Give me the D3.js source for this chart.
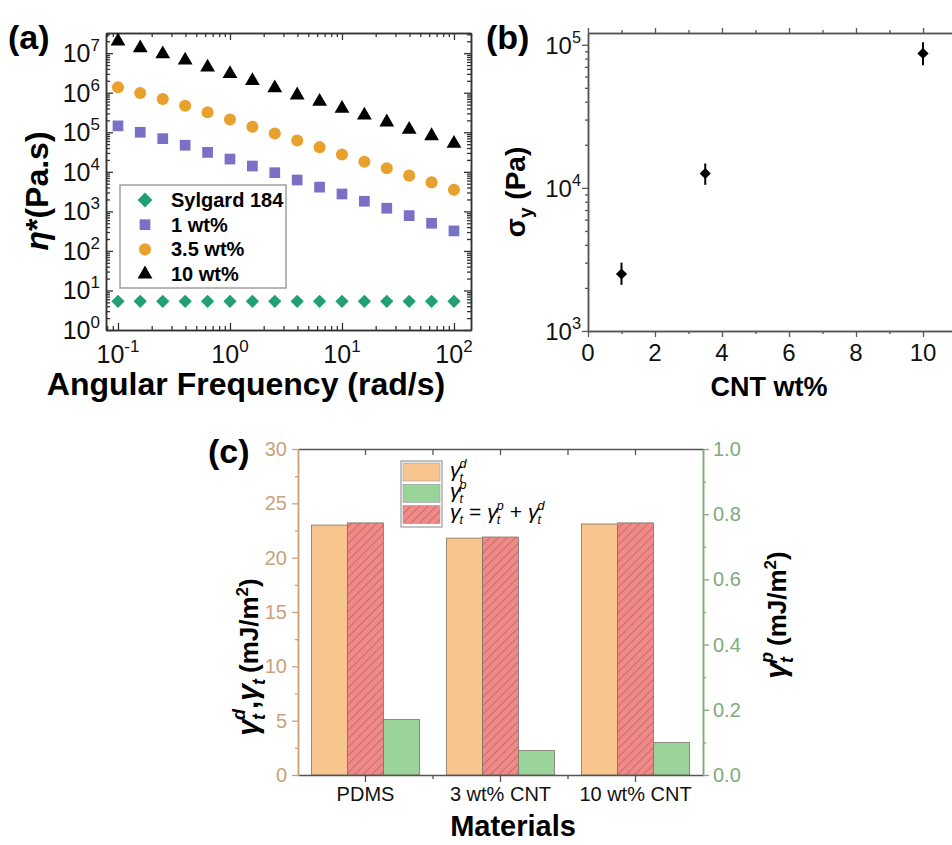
<!DOCTYPE html>
<html>
<head>
<meta charset="utf-8">
<script src="https://cdn.jsdelivr.net/npm/d3@7"></script>
<style>
  body { margin: 0; background: #fff; }
  svg { display: block; }
  text { font-family: 'Liberation Sans', Arial, sans-serif; }
</style>
</head>
<body>
<svg id="fig" width="952" height="845"></svg>
<script>
// ---- panel (a): complex viscosity vs angular frequency
const freq = [0.1, 0.158, 0.251, 0.398, 0.631, 1, 1.585, 2.512, 3.981, 6.31, 10, 15.85, 25.12, 39.81, 63.1, 100];
const sylgardFreq = [0.1, 0.158, 0.251, 0.398, 0.631, 1, 1.585, 2.512, 3.981, 6.31, 10, 15.85, 25.12, 39.81, 63.1, 100, 158.5];
const sylgard = [5.3, 5.3, 5.3, 5.3, 5.3, 5.3, 5.3, 5.3, 5.3, 5.3, 5.3, 5.3, 5.3, 5.3, 5.3, 5.3, 5.3];
const wt1 = [1.45e5, 1.0e5, 6.9e4, 4.7e4, 3.1e4, 2.1e4, 1.4e4, 9.5e3, 6.2e3, 4.1e3, 2.75e3, 1.8e3, 1.2e3, 7.8e2, 5.0e2, 3.2e2];
const wt35 = [1.38e6, 9.8e5, 6.9e5, 4.7e5, 3.2e5, 2.1e5, 1.38e5, 9.3e4, 6.2e4, 4.2e4, 2.75e4, 1.8e4, 1.23e4, 8.0e3, 5.4e3, 3.5e3];
const wt10 = [2.0e7, 1.35e7, 9.5e6, 6.6e6, 4.4e6, 3.0e6, 2.0e6, 1.32e6, 8.7e5, 6.0e5, 4.0e5, 2.7e5, 1.8e5, 1.17e5, 8.1e4, 5.2e4];
const seriesNames = ['Sylgard 184', '1 wt%', '3.5 wt%', '10 wt%'];

// ---- panel (b): yield stress vs CNT loading
const cntWt = [1, 3.5, 10];
const yieldStress = [2500, 12600, 87000];
const yieldLow = [2100, 10500, 72000];
const yieldHigh = [3000, 14800, 104000];

// ---- panel (c): surface energy components
const materials = ['PDMS', '3 wt% CNT', '10 wt% CNT'];
const gammaD = [23.0, 21.8, 23.1];
const gammaT = [23.2, 21.9, 23.2];
const gammaP = [0.17, 0.075, 0.10];

const svg = d3.select('#fig');
svg.append('rect').attr('width', 952).attr('height', 845).attr('fill', '#fff');

function styleAxis(a, color, w) {
  a.select('.domain').attr('stroke', color).attr('stroke-width', w || 1.5);
  a.selectAll('.tick line').attr('stroke', color).attr('stroke-width', 1.3);
  a.selectAll('.tick text').remove();
  return a;
}
function powLabel(sel, exp) {
  sel.append('tspan').text('10');
  sel.append('tspan').attr('dy', -11).attr('font-size', '0.68em').text(exp);
}
function logMinors(lo, hi) {
  const out = [];
  for (let e = lo; e <= hi; e++) for (let k = 2; k <= 9; k++) out.push(k * Math.pow(10, e));
  return out;
}

// ================= (a)
const A = { l: 106, r: 471, t: 33, b: 330 };
const xA = d3.scaleLog().domain([Math.pow(10, -1.107), Math.pow(10, 2.152)]).range([A.l, A.r]);
const yA = d3.scaleLog().domain([1, Math.pow(10, 7.51)]).range([A.b, A.t]);
const gA = svg.append('g');
const axA = '#333';
const xMajA = [0.1, 1, 10, 100];
const xMinA = logMinors(-2, 2).filter(v => v > xA.domain()[0] && v < xA.domain()[1]);
const yMajA = [1, 10, 100, 1e3, 1e4, 1e5, 1e6, 1e7];
const yMinA = logMinors(0, 7).filter(v => v < yA.domain()[1]);

[['b', A.b], ['t', A.t]].forEach(([s, y]) => {
  const mk = s === 'b' ? d3.axisBottom : d3.axisTop;
  styleAxis(gA.append('g').attr('transform', `translate(0,${y})`).call(mk(xA).tickValues(xMajA).tickSize(-7).tickSizeOuter(0).tickFormat('')), axA);
  styleAxis(gA.append('g').attr('transform', `translate(0,${y})`).call(mk(xA).tickValues(xMinA).tickSize(-4).tickSizeOuter(0).tickFormat('')), axA);
});
[['l', A.l], ['r', A.r]].forEach(([s, x]) => {
  const mk = s === 'l' ? d3.axisLeft : d3.axisRight;
  styleAxis(gA.append('g').attr('transform', `translate(${x},0)`).call(mk(yA).tickValues(yMajA).tickSize(-7).tickSizeOuter(0).tickFormat('')), axA);
  styleAxis(gA.append('g').attr('transform', `translate(${x},0)`).call(mk(yA).tickValues(yMinA).tickSize(-4).tickSizeOuter(0).tickFormat('')), axA);
});

gA.selectAll('.ylab').data(yMajA).enter().append('text')
  .attr('x', 100).attr('y', d => yA(d) + 9).attr('text-anchor', 'end')
  .attr('font-size', 25).attr('fill', '#111')
  .each(function(d) { powLabel(d3.select(this), Math.round(Math.log10(d))); });
gA.selectAll('.xlab').data(xMajA).enter().append('text')
  .attr('x', d => xA(d)).attr('y', 363).attr('text-anchor', 'middle')
  .attr('font-size', 25).attr('fill', '#111')
  .each(function(d) { powLabel(d3.select(this), Math.round(Math.log10(d))); });

gA.append('text').attr('x', 246).attr('y', 395).attr('text-anchor', 'middle')
  .attr('font-size', 32).attr('font-weight', 'bold').text('Angular Frequency (rad/s)');
const yTitleA = gA.append('text').attr('transform', 'translate(48,191) rotate(-90)')
  .attr('text-anchor', 'middle').attr('font-size', 32).attr('font-weight', 'bold');
yTitleA.append('tspan').attr('font-style', 'italic').text('η');
yTitleA.append('tspan').text('*(Pa.s)');

svg.append('clipPath').attr('id', 'clipA').append('rect')
  .attr('x', A.l).attr('y', A.t).attr('width', A.r - A.l).attr('height', A.b - A.t);
const plotA = gA.append('g').attr('clip-path', 'url(#clipA)');

const colSyl = '#21a077', colW1 = '#7a70c6', colW35 = '#e9a12e', colW10 = '#000';
const symDiamond = d3.symbol().type(d3.symbolSquare).size(88)();
const symSquare = d3.symbol().type(d3.symbolSquare).size(115)();
const symCircle = d3.symbol().type(d3.symbolCircle).size(115)();
const symTri = d3.symbol().type(d3.symbolTriangle).size(95)();
const legRot = [45, 0, 0, 0];

function plotSeries(xs, ys, path, color, rot) {
  plotA.selectAll(null).data(ys).enter().append('path')
    .attr('d', path).attr('fill', color)
    .attr('transform', (d, i) => `translate(${xA(xs[i])},${yA(d)}) rotate(${rot})`);
}
plotSeries(sylgardFreq, sylgard, symDiamond, colSyl, 45);
plotSeries(freq, wt1, symSquare, colW1, 0);
plotSeries(freq, wt35, symCircle, colW35, 0);
plotSeries(freq, wt10, symTri, colW10, 0);

// legend (a)
const legA = gA.append('g');
legA.append('rect').attr('x', 120).attr('y', 185).attr('width', 166).attr('height', 103)
  .attr('fill', '#fff').attr('stroke', '#888').attr('stroke-width', 1.2);
const legSyms = [d3.symbol().type(d3.symbolSquare).size(110)(), symSquare, symCircle, symTri];
const legCols = [colSyl, colW1, colW35, colW10];
seriesNames.forEach((n, i) => {
  const y = 200 + i * 24.7;
  legA.append('path').attr('d', legSyms[i]).attr('fill', legCols[i]).attr('transform', `translate(145,${y}) rotate(${legRot[i]})`);
  legA.append('text').attr('x', 171).attr('y', y + 7).attr('font-size', 20).attr('font-weight', 'bold').text(n);
});

svg.append('text').attr('x', 8).attr('y', 49).attr('font-size', 34).attr('font-weight', 'bold').text('(a)');

// ================= (b)
const B = { l: 588, t: 33, b: 331 };
const xB = d3.scaleLinear().domain([0, 12]).range([B.l, B.l + 33.5 * 12]);
const yB = d3.scaleLog().domain([1e3, Math.pow(10, 5.082)]).range([B.b, B.t]);
const gB = svg.append('g');
const axB = '#555';
const xMajB = [0, 2, 4, 6, 8, 10, 12];
const xMinB = [1, 3, 5, 7, 9, 11];
const yMajB = [1e3, 1e4, 1e5];
const yMinB = logMinors(3, 4);

styleAxis(gB.append('g').attr('transform', `translate(0,${B.b})`).call(d3.axisBottom(xB).tickValues(xMajB).tickSize(6).tickSizeOuter(0).tickFormat('')), axB);
styleAxis(gB.append('g').attr('transform', `translate(0,${B.b})`).call(d3.axisBottom(xB).tickValues(xMinB).tickSize(3).tickSizeOuter(0).tickFormat('')), axB);
styleAxis(gB.append('g').attr('transform', `translate(0,${B.t})`).call(d3.axisTop(xB).tickValues(xMajB).tickSize(5).tickSizeOuter(0).tickFormat('')), axB);
styleAxis(gB.append('g').attr('transform', `translate(0,${B.t})`).call(d3.axisTop(xB).tickValues(xMinB).tickSize(3).tickSizeOuter(0).tickFormat('')), axB);
styleAxis(gB.append('g').attr('transform', `translate(${B.l},0)`).call(d3.axisLeft(yB).tickValues(yMajB).tickSize(6).tickSizeOuter(0).tickFormat('')), axB);
styleAxis(gB.append('g').attr('transform', `translate(${B.l},0)`).call(d3.axisLeft(yB).tickValues(yMinB).tickSize(3).tickSizeOuter(0).tickFormat('')), axB);

gB.selectAll('.xl').data(xMajB.slice(0, 6)).enter().append('text')
  .attr('x', d => xB(d)).attr('y', 361).attr('text-anchor', 'middle')
  .attr('font-size', 24).attr('fill', '#111').text(d => d);
gB.selectAll('.yl').data(yMajB).enter().append('text')
  .attr('x', 581).attr('y', d => yB(d) + 9).attr('text-anchor', 'end')
  .attr('font-size', 24).attr('fill', '#111')
  .each(function(d) { powLabel(d3.select(this), Math.round(Math.log10(d))); });

gB.append('text').attr('x', 769).attr('y', 396).attr('text-anchor', 'middle')
  .attr('font-size', 27).attr('font-weight', 'bold').text('CNT wt%');
const yTitleB = gB.append('text').attr('transform', 'translate(525,192) rotate(-90)')
  .attr('text-anchor', 'middle').attr('font-size', 28).attr('font-weight', 'bold');
yTitleB.append('tspan').text('σ');
yTitleB.append('tspan').attr('dy', 7).attr('font-size', 19).text('y');
yTitleB.append('tspan').attr('dy', -7).text(' (Pa)');

gB.selectAll('.eb').data(cntWt).enter().append('line')
  .attr('x1', d => xB(d)).attr('x2', d => xB(d))
  .attr('y1', (d, i) => yB(yieldLow[i])).attr('y2', (d, i) => yB(yieldHigh[i]))
  .attr('stroke', '#000').attr('stroke-width', 2);
gB.selectAll('.pt').data(cntWt).enter().append('path')
  .attr('d', d3.symbol().type(d3.symbolSquare).size(62)())
  .attr('transform', (d, i) => `translate(${xB(d)},${yB(yieldStress[i])}) rotate(45)`)
  .attr('fill', '#000');

svg.append('text').attr('x', 486).attr('y', 49).attr('font-size', 34).attr('font-weight', 'bold').text('(b)');

// ================= (c)
const C = { l: 298, r: 703, t: 449, b: 775 };
const xC = d3.scaleBand().domain(materials).range([C.l, C.r]).padding(0);
const yC = d3.scaleLinear().domain([0, 30]).range([C.b, C.t]);
const yC2 = d3.scaleLinear().domain([0, 1]).range([C.b, C.t]);
const gC = svg.append('g');
const tan = '#c9a27a', grn = '#80aa7a', axC = '#555';

const defs = svg.append('defs');
const pat = defs.append('pattern').attr('id', 'hatch').attr('patternUnits', 'userSpaceOnUse')
  .attr('width', 6).attr('height', 6).attr('patternTransform', 'rotate(45)');
pat.append('rect').attr('width', 6).attr('height', 6).attr('fill', '#f08a88');
pat.append('line').attr('x1', 0).attr('y1', 0).attr('x2', 0).attr('y2', 6).attr('stroke', '#944644').attr('stroke-width', 0.9);

const barW = 36;
const colD = '#f9c58f', colP = '#9bd49a';
const bars = [
  { vals: gammaD, scale: yC, fill: colD, off: -1.5 },
  { vals: gammaT, scale: yC, fill: 'url(#hatch)', off: -0.5 },
  { vals: gammaP, scale: yC2, fill: colP, off: 0.5 }
];
bars.forEach(s => {
  gC.selectAll(null).data(materials).enter().append('rect')
    .attr('x', d => xC(d) + xC.bandwidth() / 2 + s.off * barW)
    .attr('y', (d, i) => s.scale(s.vals[i]))
    .attr('width', barW)
    .attr('height', (d, i) => C.b - s.scale(s.vals[i]))
    .attr('fill', s.fill).attr('stroke', '#7d7468').attr('stroke-width', 0.8);
});

// axes (c)
const catEdges = [xC(materials[1]), xC(materials[2])];
styleAxis(gC.append('g').attr('transform', `translate(0,${C.b})`).call(d3.axisBottom(xC.copy()).tickSize(7).tickSizeOuter(0).tickFormat('')), axC);
gC.selectAll('.be').data(catEdges).enter().append('line')
  .attr('x1', d => d).attr('x2', d => d).attr('y1', C.b).attr('y2', C.b + 4).attr('stroke', axC).attr('stroke-width', 1.3);
styleAxis(gC.append('g').attr('transform', `translate(0,${C.t})`).call(d3.axisTop(xC.copy()).tickSize(-6).tickSizeOuter(0).tickFormat('')), axC);
gC.selectAll('.te').data(catEdges).enter().append('line')
  .attr('x1', d => d).attr('x2', d => d).attr('y1', C.t).attr('y2', C.t + 6).attr('stroke', axC).attr('stroke-width', 1.3);

styleAxis(gC.append('g').attr('transform', `translate(${C.l},0)`).call(d3.axisLeft(yC).tickValues([0, 5, 10, 15, 20, 25, 30]).tickSize(6).tickSizeOuter(0).tickFormat('')), tan);
styleAxis(gC.append('g').attr('transform', `translate(${C.l},0)`).call(d3.axisLeft(yC).tickValues([2.5, 7.5, 12.5, 17.5, 22.5, 27.5]).tickSize(3).tickSizeOuter(0).tickFormat('')), tan);
styleAxis(gC.append('g').attr('transform', `translate(${C.r},0)`).call(d3.axisRight(yC2).tickValues([0, 0.2, 0.4, 0.6, 0.8, 1.0]).tickSize(6).tickSizeOuter(0).tickFormat('')), grn);
styleAxis(gC.append('g').attr('transform', `translate(${C.r},0)`).call(d3.axisRight(yC2).tickValues([0.1, 0.3, 0.5, 0.7, 0.9]).tickSize(3).tickSizeOuter(0).tickFormat('')), grn);

gC.selectAll('.yl').data([0, 5, 10, 15, 20, 25, 30]).enter().append('text')
  .attr('x', 287).attr('y', d => yC(d) + 7).attr('text-anchor', 'end')
  .attr('font-size', 20).attr('fill', tan).text(d => d);
gC.selectAll('.yr').data([0, 0.2, 0.4, 0.6, 0.8, 1.0]).enter().append('text')
  .attr('x', 713).attr('y', d => yC2(d) + 7).attr('text-anchor', 'start')
  .attr('font-size', 20).attr('fill', grn).text(d => d3.format('.1f')(d));
gC.selectAll('.xl').data(materials).enter().append('text')
  .attr('x', d => xC(d) + xC.bandwidth() / 2).attr('y', 801).attr('text-anchor', 'middle')
  .attr('font-size', 20).attr('fill', '#111').text(d => d);
gC.append('text').attr('x', 513).attr('y', 836).attr('text-anchor', 'middle')
  .attr('font-size', 29).attr('font-weight', 'bold').text('Materials');

// gamma with stacked sub/superscript; returns next x
const serif = "'DejaVu Serif', 'Liberation Serif', serif";
function gamma(g, x, y, size, sup, bold) {
  const wt = bold ? 'bold' : 'normal';
  const t = g.append('text').attr('x', x).attr('y', y).attr('font-family', serif)
    .attr('font-style', 'italic').attr('font-size', size).attr('font-weight', wt).text('γ');
  const w = t.node().getComputedTextLength();
  const s = g.append('text').attr('x', x + w - 1).attr('y', y + size * 0.24).attr('font-family', serif)
    .attr('font-style', 'italic').attr('font-size', size * 0.6).attr('font-weight', wt).text('t');
  let w2 = s.node().getComputedTextLength();
  if (sup) {
    const p = g.append('text').attr('x', x + w - 1).attr('y', y - size * 0.42).attr('font-family', serif)
      .attr('font-style', 'italic').attr('font-size', size * 0.6).attr('font-weight', wt).text(sup);
    w2 = Math.max(w2, p.node().getComputedTextLength());
  }
  return x + w - 1 + w2;
}
function plain(g, x, y, size, str, opts) {
  const t = g.append('text').attr('x', x).attr('y', y).attr('font-size', size).text(str);
  if (opts && opts.serif) t.attr('font-family', serif);
  if (opts && opts.bold) t.attr('font-weight', 'bold');
  return x + t.node().getComputedTextLength();
}

// legend (c)
const legC = gC.append('g');
legC.append('rect').attr('x', 401).attr('y', 461).attr('width', 41).attr('height', 66)
  .attr('fill', '#fff').attr('stroke', '#999').attr('stroke-width', 1.2);
const legFills = [colD, colP, 'url(#hatch)'];
legFills.forEach((f, i) => {
  legC.append('rect').attr('x', 403).attr('y', 463 + i * 21.3).attr('width', 37).attr('height', 18)
    .attr('fill', f).attr('stroke', '#999').attr('stroke-width', 0.6);
});
const ls = 21;
gamma(legC, 450, 477, ls, 'd');
gamma(legC, 450, 498, ls, 'p');
let lx = gamma(legC, 450, 519, ls, null);
lx = plain(legC, lx + 6, 519, ls, '=', { serif: true });
lx = gamma(legC, lx + 6, 519, ls, 'p');
lx = plain(legC, lx + 6, 519, ls, '+', { serif: true });
gamma(legC, lx + 6, 519, ls, 'd');

// rotated axis titles (c)
function rotTitle(cx, cy, build) {
  const outer = gC.append('g').attr('transform', `translate(${cx},${cy}) rotate(-90)`);
  const inner = outer.append('g');
  const end = build(inner);
  inner.attr('transform', `translate(${-end / 2},0)`);
}
rotTitle(258, 657, g => {
  let x = gamma(g, 0, 0, 30, 'd', true);
  x = plain(g, x, 0, 30, ', ', { serif: true, bold: true });
  x = gamma(g, x, 0, 30, null, true);
  x = plain(g, x + 6, 0, 26, '(mJ/m', { bold: true });
  const sup = g.append('text').attr('x', x).attr('y', -10).attr('font-size', 17).attr('font-weight', 'bold').text('2');
  x += sup.node().getComputedTextLength();
  x = plain(g, x, 0, 26, ')', { bold: true });
  return x;
});
rotTitle(786, 615, g => {
  let x = gamma(g, 0, 0, 30, 'p', true);
  x = plain(g, x + 6, 0, 26, '(mJ/m', { bold: true });
  const sup = g.append('text').attr('x', x).attr('y', -10).attr('font-size', 17).attr('font-weight', 'bold').text('2');
  x += sup.node().getComputedTextLength();
  x = plain(g, x, 0, 26, ')', { bold: true });
  return x;
});

svg.append('text').attr('x', 208).attr('y', 463).attr('font-size', 34).attr('font-weight', 'bold').text('(c)');
</script>
</body>
</html>
